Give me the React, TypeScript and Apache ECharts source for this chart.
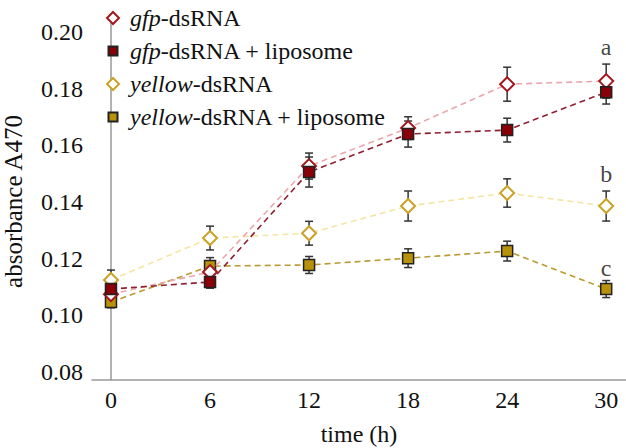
import React, { useEffect, useRef } from "react";
import * as echarts from "echarts";

const times = [0, 6, 12, 18, 24, 30];
const gfpDs = [0.1075, 0.1153, 0.1527, 0.1661, 0.1816, 0.1827];
const gfpDsErr = [0.002, 0.003, 0.0046, 0.004, 0.006, 0.006];
const gfpLipo = [0.1093, 0.1118, 0.1506, 0.164, 0.1654, 0.1788];
const gfpLipoErr = [0.0022, 0.0022, 0.0053, 0.0046, 0.0042, 0.0042];
const yelDs = [0.1125, 0.1273, 0.129, 0.1386, 0.1432, 0.1386];
const yelDsErr = [0.0035, 0.0042, 0.0042, 0.0053, 0.005, 0.0053];
const yelLipo = [0.1047, 0.1174, 0.1178, 0.1202, 0.1227, 0.1093];
const yelLipoErr = [0.002, 0.003, 0.003, 0.0033, 0.0035, 0.003];
const xTicks = [0, 6, 12, 18, 24, 30];
const yTicks = [0.08, 0.1, 0.12, 0.14, 0.16, 0.18, 0.2];
const letters = ["a", "b", "c"];
const letterY = [0.1947, 0.1499, 0.1167];
const names = [
  "gfp-dsRNA",
  "gfp-dsRNA + liposome",
  "yellow-dsRNA",
  "yellow-dsRNA + liposome",
];

const FONT = "Liberation Serif";
const SQUARE_ICON = "path://M0,0L0,0M1.5,1.5L10.5,1.5L10.5,10.5L1.5,10.5ZM12,12L12,12";

export default function App() {
  const ref = useRef<HTMLDivElement>(null);
  useEffect(() => {
    const chart = echarts.init(ref.current!, null, { renderer: "svg" });
    const pts = (vals: number[]) => times.map((t, i) => [t, vals[i]]);
    const errs = (vals: number[], e: number[]) => times.map((t, i) => [t, vals[i], e[i]]);
    const errSeries = (vals: number[], e: number[]) => ({
      type: "custom",
      z: 1,
      silent: true,
      data: errs(vals, e),
      renderItem: (params: any, api: any) => {
        const x = api.value(0);
        const v = api.value(1);
        const er = api.value(2);
        const top = api.coord([x, v + er]);
        const bot = api.coord([x, v - er]);
        const w = 4;
        const style = { stroke: "#333", lineWidth: 1.5 };
        return {
          type: "group",
          children: [
            { type: "line", shape: { x1: top[0], y1: top[1], x2: bot[0], y2: bot[1] }, style },
            { type: "line", shape: { x1: top[0] - w, y1: top[1], x2: top[0] + w, y2: top[1] }, style },
            { type: "line", shape: { x1: bot[0] - w, y1: bot[1], x2: bot[0] + w, y2: bot[1] }, style },
          ],
        };
      },
    });
    const lineSeries = (
      name: string,
      vals: number[],
      lineColor: string,
      symbol: string,
      size: number,
      fill: string,
      border: string,
      z: number
    ) => ({
      type: "line",
      name,
      data: pts(vals),
      z,
      symbol,
      symbolSize: size,
      showAllSymbol: true,
      lineStyle: { color: lineColor, type: [6, 4], width: 1.6 },
      itemStyle: { color: fill, borderColor: border, borderWidth: symbol === "diamond" ? 2 : 1.5, opacity: 1 },
      emphasis: { disabled: true },
    });
    const legendFormatter = (n: string) => {
      const idx = n.indexOf("-");
      return "{i|" + n.slice(0, idx) + "}" + n.slice(idx);
    };
    chart.setOption({
      animation: false,
      backgroundColor: "#ffffff",
      grid: { left: 92, right: 0, top: 23, bottom: 68, outerBoundsMode: "none", containLabel: false },
      legend: {
        orient: "vertical",
        left: 101,
        top: 1,
        itemWidth: 12,
        itemHeight: 12,
        itemGap: 9,
        data: [
          { name: names[0], icon: "diamond" },
          { name: names[1], icon: SQUARE_ICON },
          { name: names[2], icon: "diamond" },
          { name: names[3], icon: SQUARE_ICON },
        ],
        formatter: legendFormatter,
        textStyle: {
          fontFamily: FONT,
          fontSize: 24,
          color: "#111",
          padding: [0, 0, 0, 6],
          rich: { i: { fontFamily: FONT, fontSize: 24, fontStyle: "italic", color: "#111" } },
        },
      },
      xAxis: {
        type: "value",
        min: -1.15,
        max: 31.2,
        name: "time (h)",
        nameLocation: "middle",
        nameGap: 42,
        nameTextStyle: { fontFamily: FONT, fontSize: 24, color: "#111" },
        axisLine: { show: true, lineStyle: { color: "#999", width: 1.5 } },
        axisTick: { show: false },
        splitLine: { show: false },
        axisLabel: {
          customValues: xTicks,
          fontFamily: FONT,
          fontSize: 24,
          color: "#111",
          margin: 8,
        },
      },
      yAxis: {
        type: "value",
        min: 0.0772,
        max: 0.2032,
        name: "absorbance A470",
        nameLocation: "middle",
        nameGap: 66,
        nameTextStyle: { fontFamily: FONT, fontSize: 25, color: "#111" },
        axisLine: { show: true, lineStyle: { color: "#999", width: 1.5 } },
        axisTick: { show: false },
        splitLine: { show: false },
        axisLabel: {
          customValues: yTicks,
          formatter: (v: number) => v.toFixed(2),
          fontFamily: FONT,
          fontSize: 24,
          color: "#111",
          margin: 9,
        },
      },
      series: [
        errSeries(gfpDs, gfpDsErr),
        errSeries(gfpLipo, gfpLipoErr),
        errSeries(yelDs, yelDsErr),
        errSeries(yelLipo, yelLipoErr),
        lineSeries(names[2], yelDs, "#f4e6a2", "diamond", 14, "#ffffff", "#c9a227", 3),
        lineSeries(names[3], yelLipo, "#b99a35", "rect", 11, "#b8920a", "#222222", 4),
        lineSeries(names[0], gfpDs, "#eaa7ae", "diamond", 14, "#ffffff", "#a3171f", 5),
        lineSeries(names[1], gfpLipo, "#8e2030", "rect", 11, "#8a0008", "#222222", 6),
        {
          type: "scatter",
          z: 7,
          silent: true,
          symbolSize: 1,
          itemStyle: { color: "rgba(0,0,0,0)" },
          data: letters.map((l, i) => ({ value: [30, letterY[i]], name: l })),
          label: {
            show: true,
            position: "inside",
            formatter: (p: any) => p.name,
            fontFamily: FONT,
            fontSize: 24,
            color: "#111",
          },
        },
      ],
    });
    return () => chart.dispose();
  }, []);
  return <div ref={ref} style={{ width: 626, height: 448, position: "absolute", left: 0, top: 0 }} />;
}
